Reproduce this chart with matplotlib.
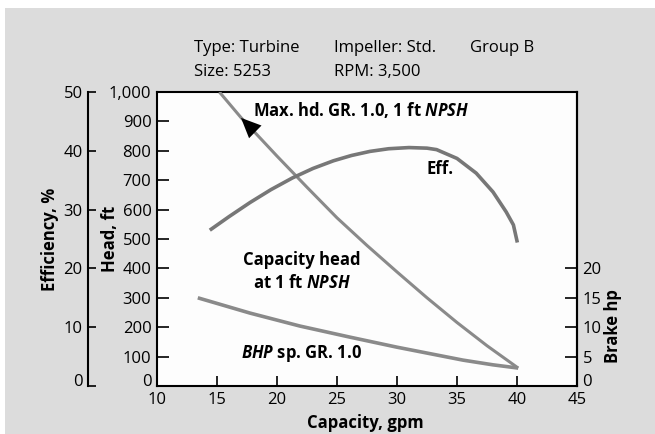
import matplotlib
matplotlib.use("Agg")
import matplotlib.pyplot as plt
from matplotlib.patches import Rectangle
from matplotlib.ticker import FuncFormatter
from matplotlib.transforms import ScaledTranslation

plt.rcParams['font.family'] = ['Open Sans', 'DejaVu Sans']
plt.rcParams['mathtext.fontset'] = 'custom'
plt.rcParams['mathtext.rm'] = 'Open Sans:bold'
plt.rcParams['mathtext.it'] = 'Open Sans:italic:bold'

# head curve (ft) vs capacity (gpm)
head_gpm = [15.2, 17.0, 20.0, 22.5, 25.0, 27.5, 30.0, 32.5, 35.0, 37.5, 40.1]
head_ft = [1000, 913, 782, 676, 572, 478, 388, 300, 216, 137, 61]

# efficiency curve (%)
eff_gpm = [14.4, 16.0, 17.75, 19.5, 21.3, 23.0, 24.7, 26.2, 27.75, 29.3, 31.0,
           32.5, 33.3, 35.0, 36.6, 38.0, 39.1, 39.7, 40.03]
eff_pct = [26.5, 28.8, 31.2, 33.4, 35.4, 37.0, 38.3, 39.2, 39.9, 40.35, 40.55,
           40.45, 40.2, 38.7, 36.2, 33.0, 29.6, 27.4, 24.4]

# brake horsepower
bhp_gpm = [13.4, 17.75, 21.9, 24.0, 26.1, 30.0, 33.0, 35.5, 38.0, 40.1]
bhp_hp = [15.0, 12.4, 10.2, 9.25, 8.3, 6.6, 5.4, 4.4, 3.6, 3.05]

x_ticks = [10, 15, 20, 25, 30, 35, 40, 45]
head_ticks = list(range(0, 1001, 100))
eff_ticks = [0, 10, 20, 30, 40, 50]
hp_ticks = [0, 5, 10, 15, 20]

fig = plt.figure(figsize=(6.55, 4.34), dpi=100, facecolor='white')
fig.patches.append(Rectangle((5 / 655, 0), 1, (434 - 8) / 434, transform=fig.transFigure,
                             facecolor='#dcdcdc', edgecolor='none', zorder=-10))

ax = fig.add_axes([157 / 655, 48 / 434, 420 / 655, 294 / 434])
ax.set_facecolor('#fdfdfd')
ax.set_xlim(10, 45)
ax.set_ylim(0, 1000)
ax.set_xticks(x_ticks)
ax.set_yticks(head_ticks)
ax.yaxis.set_major_formatter(FuncFormatter(lambda v, p: f"{int(v):,}"))
ax.tick_params(axis='x', direction='in', length=7, width=1.2, labelsize=12, pad=4)
ax.tick_params(axis='y', direction='in', length=8.5, width=1.2, labelsize=12, pad=4)
for s in ax.spines.values():
    s.set_linewidth(1.5)

# efficiency axis, offset to the left
ax_eff = ax.twinx()
ax_eff.set_ylim(0, 50)
ax_eff.set_yticks(eff_ticks)
ax_eff.yaxis.set_ticks_position('left')
ax_eff.yaxis.set_label_position('left')
ax_eff.spines['left'].set_position(('axes', -0.164))
ax_eff.spines['left'].set_linewidth(1.5)
for k in ['right', 'top', 'bottom']:
    ax_eff.spines[k].set_visible(False)
ax_eff.tick_params(axis='y', direction='in', length=6, width=1.2, labelsize=12, pad=4)

# brake hp axis on the right
ax_hp = ax.twinx()
ax_hp.set_ylim(0, 50)
ax_hp.set_yticks(hp_ticks)
for k in ['left', 'top', 'bottom']:
    ax_hp.spines[k].set_visible(False)
ax_hp.spines['right'].set_linewidth(1.5)
ax_hp.tick_params(axis='y', direction='in', length=8.5, width=1.2, labelsize=12, pad=4)

# the "0" labels sit a bit higher than the tick
lift = ScaledTranslation(0, 0.06, fig.dpi_scale_trans)
for a in (ax, ax_eff, ax_hp):
    t0 = a.yaxis.get_major_ticks()[0]
    for lab in (t0.label1, t0.label2):
        lab.set_transform(lab.get_transform() + lift)

ax.plot(head_gpm, head_ft, color='#8a8a8a', lw=2.2, solid_capstyle='butt',
        solid_joinstyle='round', zorder=3)
ax_eff.plot(eff_gpm, eff_pct, color='#777777', lw=2.6, solid_capstyle='butt',
            solid_joinstyle='round')
ax_hp.plot(bhp_gpm, bhp_hp, color='#8a8a8a', lw=2.6, solid_capstyle='butt',
           solid_joinstyle='round')

ax.annotate('', xy=(17.0, 912), xytext=(18.2, 864),
            arrowprops=dict(arrowstyle='-|>,head_length=0.72,head_width=0.32',
                            color='black', lw=0, mutation_scale=20,
                            shrinkA=0, shrinkB=0), zorder=5)

ax.text(18.0, 939, r"Max. hd. GR. 1.0, 1 ft $\mathit{NPSH}$", fontsize=12,
        fontweight='bold', ha='left', va='center')
ax.text(33.6, 738, "Eff.", fontsize=12, fontweight='bold', ha='center', va='center')
ax.text(22.1, 429, "Capacity head", fontsize=12, fontweight='bold', ha='center', va='center')
ax.text(22.1, 350, r"at 1 ft $\mathit{NPSH}$", fontsize=12, fontweight='bold',
        ha='center', va='center')
ax.text(22.0, 112, r"$\mathit{BHP}$ sp. GR. 1.0", fontsize=12, fontweight='bold',
        ha='center', va='center')

ax.text(-0.255, 0.5, "Efficiency, %", transform=ax.transAxes, rotation=90,
        fontsize=12, fontweight='bold', ha='center', va='center')
ax.text(-0.112, 0.5, "Head, ft", transform=ax.transAxes, rotation=90,
        fontsize=12, fontweight='bold', ha='center', va='center')
ax.text(1.086, 0.204, "Brake hp", transform=ax.transAxes, rotation=90,
        fontsize=12, fontweight='bold', ha='center', va='center')
ax.text(0.495, -0.126, "Capacity, gpm", transform=ax.transAxes,
        fontsize=12, fontweight='bold', ha='center', va='center')

fig.text(194 / 655, 1 - 48 / 434, "Type: Turbine", fontsize=12, va='center')
fig.text(194 / 655, 1 - 72 / 434, "Size: 5253", fontsize=12, va='center')
fig.text(334 / 655, 1 - 48 / 434, "Impeller: Std.", fontsize=12, va='center')
fig.text(334 / 655, 1 - 72 / 434, "RPM: 3,500", fontsize=12, va='center')
fig.text(470 / 655, 1 - 48 / 434, "Group B", fontsize=12, va='center')

fig.savefig("out.png", dpi=100, facecolor=fig.get_facecolor())
